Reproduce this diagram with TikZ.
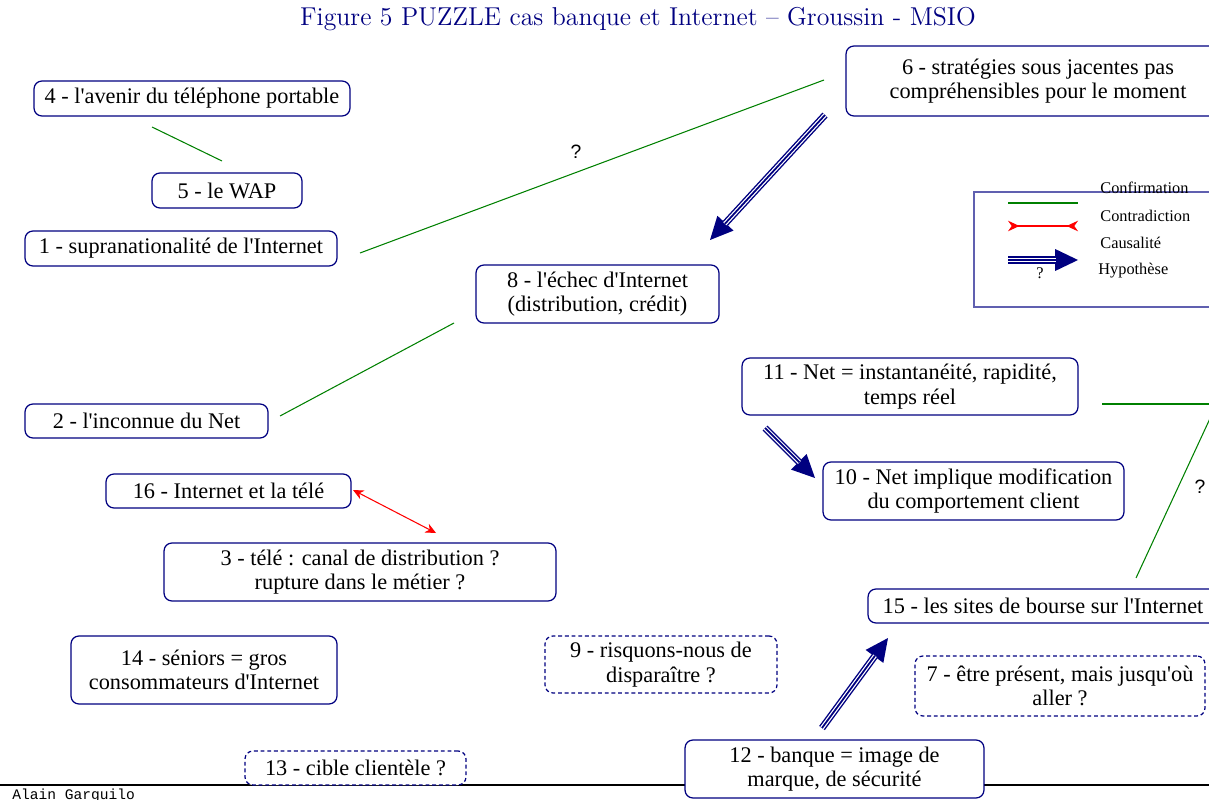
\documentclass[tikz,border=0pt]{standalone}
\usepackage{fontspec}
\newfontfamily\boxfont{Liberation Serif}
\newfontfamily\qfont{Liberation Sans}
\newfontfamily\authorfont{Liberation Mono}
\usetikzlibrary{arrows.meta}
\definecolor{navy}{RGB}{0,0,128}
\definecolor{legendblue}{RGB}{96,96,176}
\definecolor{confgreen}{RGB}{0,128,0}

\begin{document}
\begin{tikzpicture}[x=0.02cm, y=-0.02cm,
  box/.style={draw=navy, fill=white, rounded corners=4.5pt, line width=0.7pt,
    align=center, inner sep=0pt, font=\boxfont\fontsize{12.7}{14}\selectfont},
  openbox/.style={box, dash pattern=on 2.2pt off 1.6pt},
  confirm/.style={confgreen, line width=0.6pt},
  contra/.style={red, line width=0.6pt},
  causal/.style={navy, line width=4pt, -{Triangle[length=13pt,width=12.5pt,line width=0pt]},
    postaction={draw=white, line width=2.4pt, -, shorten >=12.5pt},
    postaction={draw=navy, line width=1pt, -, shorten >=12.5pt}},
  qmark/.style={font=\qfont\fontsize{11}{13}\selectfont},
  legtext/.style={font=\boxfont\fontsize{9.3}{11}\selectfont, anchor=west, inner sep=0pt}]
  \useasboundingbox (0,0) rectangle (1209,800);

  % title and footer
  \node[text=navy, font=\fontsize{14.7}{17}\selectfont] (title) at (638,19)
    {Figure 5 PUZZLE cas banque et Internet – Groussin - MSIO};
  \draw[line width=0.7pt] (0,785) -- (1209,785);
  \node[anchor=north west, inner sep=0pt, font=\authorfont\fontsize{8.3}{10}\selectfont]
    (author) at (12,789) {Alain Garguilo};

  % boxes
  \node[box, minimum width=6.32cm, minimum height=0.70cm] (n4) at (192,98.5) {4 - l'avenir du téléphone portable};
  \node[box, minimum width=3.00cm, minimum height=0.70cm] (n5) at (227,190.5) {5 - le WAP};
  \node[box, minimum width=6.24cm, minimum height=0.70cm] (n1) at (181,248.5) {1 - supranationalité de l'Internet};
  \node[box, minimum width=7.68cm, minimum height=1.40cm] (n6) at (1038,81) {6 - stratégies sous jacentes pas\\compréhensibles pour le moment};
  \node[box, minimum width=4.86cm, minimum height=1.16cm] (n8) at (597.5,294) {8 - l'échec d'Internet\\(distribution, crédit)};
  \node[box, minimum width=4.86cm, minimum height=0.68cm] (n2) at (146.5,421) {2 - l'inconnue du Net};
  \node[box, minimum width=4.90cm, minimum height=0.68cm] (n16) at (228.5,491) {16 - Internet et la télé};
  \node[box, minimum width=7.84cm, minimum height=1.16cm] (n3) at (360,572) {3 - télé : canal de distribution ?\\rupture dans le métier ?};
  \node[box, minimum width=6.72cm, minimum height=1.14cm] (n11) at (910,386.5) {11 - Net = instantanéité, rapidité,\\temps réel};
  \node[box, minimum width=6.02cm, minimum height=1.16cm] (n10) at (973.5,491) {10 - Net implique modification\\du comportement client};
  \node[box, minimum width=7.00cm, minimum height=0.68cm] (n15) at (1043,606) {15 - les sites de bourse sur l'Internet};
  \node[box, minimum width=5.32cm, minimum height=1.36cm] (n14) at (204,670) {14 - séniors = gros\\consommateurs d'Internet};
  \node[openbox, minimum width=4.64cm, minimum height=1.14cm] (n9) at (661,664.5) {9 - risquons-nous de\\disparaître ?};
  \node[openbox, minimum width=5.80cm, minimum height=1.20cm] (n7) at (1060,686) {7 - être présent, mais jusqu'où\\aller ?};
  \node[box, minimum width=5.98cm, minimum height=1.16cm] (n12) at (834.5,769) {12 - banque = image de\\marque, de sécurité};
  \node[openbox, minimum width=4.42cm, minimum height=0.68cm] (n13) at (355.5,768) {13 - cible clientèle ?};

  % connector ends
  \coordinate (a4) at (152,127);   \coordinate (a5) at (222,161);
  \coordinate (a1) at (360,253);   \coordinate (a6) at (824,80);
  \coordinate (b6) at (825,115);   \coordinate (b8) at (710,240);
  \coordinate (c2) at (280,416);   \coordinate (c8) at (454,323);
  \coordinate (d16) at (353,490);  \coordinate (d3) at (436,533);
  \coordinate (e11) at (765,428);  \coordinate (e10) at (815,478);
  \coordinate (f11) at (1102,404); \coordinate (fout) at (1215,404);
  \coordinate (g15) at (1136,578); \coordinate (gout) at (1213,412);
  \coordinate (h12) at (822,728);  \coordinate (h15) at (888,638);

  % links
  \draw[confirm] (a4) -- (a5);
  \draw[confirm] (a1) -- (a6);
  \node[qmark] (q1) at (576,152) {?};
  \draw[causal] (b6) -- (b8);
  \draw[confirm] (c2) -- (c8);
  \draw[contra, {Stealth[length=6pt,width=5.5pt]}-{Stealth[length=6pt,width=5.5pt]}] (d16) -- (d3);
  \draw[causal] (e11) -- (e10);
  \draw[confirm] (f11) -- (fout);
  \draw[confirm] (g15) -- (gout);
  \node[qmark] (q2) at (1200,487) {?};
  \draw[causal] (h12) -- (h15);

  % legend
  \draw[legendblue, line width=0.8pt] (974,192) rectangle (1240,307);
  \coordinate (l1a) at (1008,203); \coordinate (l1b) at (1078,203);
  \coordinate (l2a) at (1008,226); \coordinate (l2b) at (1078,226);
  \coordinate (l3a) at (1008,260); \coordinate (l3b) at (1078,260);
  \draw[confirm] (l1a) -- (l1b);
  \draw[contra, {Stealth[length=6.5pt,width=6pt,reversed]}-{Stealth[length=6.5pt,width=6pt,reversed]}] (l2a) -- (l2b);
  \draw[causal] (l3a) -- (l3b);
  \node[legtext] (lconf) at (1100,188) {Confirmation};
  \node[legtext] (lcontra) at (1100,216) {Contradiction};
  \node[legtext] (lcaus) at (1100,243) {Causalité};
  \node[legtext] (lhyp) at (1098,271) {Hypothèse};
  \node[font=\boxfont\fontsize{9.3}{11}\selectfont, inner sep=0pt] (lq) at (1040,273) {?};
\end{tikzpicture}
\end{document}
